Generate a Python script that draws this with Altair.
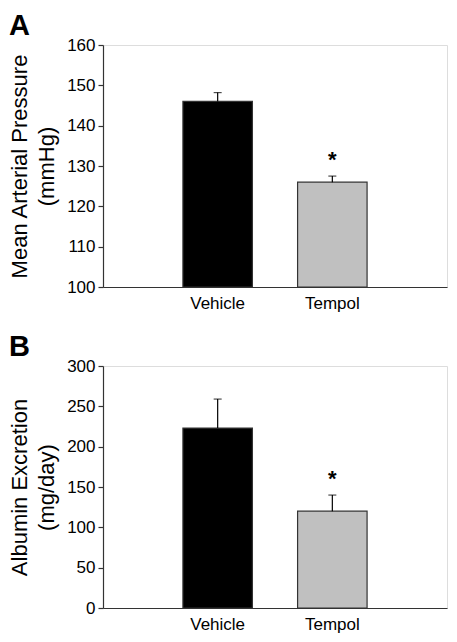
import altair as alt
import pandas as pd

groups = ["Vehicle", "Tempol"]
bar_colors = ["#000000", "#c0c0c0"]
sig = ["", "*"]

# Panel A: mean arterial pressure (mmHg)
map_mean = [146, 126]
map_sem = [2.2, 1.5]
map_ticks = [100, 110, 120, 130, 140, 150, 160]

# Panel B: albumin excretion (mg/day)
alb_mean = [223, 120]
alb_sem = [36, 20]
alb_ticks = [0, 50, 100, 150, 200, 250, 300]

FONT = "Liberation Sans"
AXIS_COLOR = "#333333"
PLOT_W = 344
PLOT_H = 242


def panel(letter, means, sems, title_lines, ticks, letter_y):
    df = pd.DataFrame({
        "group": groups,
        "mean": means,
        "base": [ticks[0]] * len(groups),
        "top": [m + s for m, s in zip(means, sems)],
        "sig": sig,
    })
    x = alt.X(
        "group:N", sort=groups,
        scale=alt.Scale(paddingInner=0.394, paddingOuter=0.697),
        axis=alt.Axis(title=None, labelAngle=0, ticks=False, labelPadding=8,
                      labelFontSize=17, labelFont=FONT, labelColor="#000",
                      domainColor=AXIS_COLOR, domainWidth=1.2),
    )
    yscale = alt.Scale(domain=[ticks[0], ticks[-1]], zero=False, nice=False)
    y = alt.Y(
        "mean:Q", scale=yscale,
        axis=alt.Axis(title=title_lines, values=ticks, grid=False, tickSize=5,
                      labelPadding=3, labelFontSize=17, labelFont=FONT,
                      labelColor="#000", titleFont=FONT, titleFontSize=22,
                      titleFontWeight="normal", titleColor="#000",
                      titleLineHeight=27, titlePadding=8,
                      domainColor=AXIS_COLOR, tickColor=AXIS_COLOR,
                      domainWidth=1.2, tickWidth=1.2),
    )
    base = alt.Chart(df)
    bars = base.mark_bar(stroke=AXIS_COLOR, strokeWidth=1.2).encode(
        x=x, y=y, y2="base:Q",
        color=alt.Color("group:N", scale=alt.Scale(domain=groups, range=bar_colors), legend=None),
    )
    stem = base.mark_rule(color="#000", strokeWidth=1.2).encode(
        x=alt.X("group:N", sort=groups), y=alt.Y("mean:Q"), y2="top:Q")
    cap = base.mark_tick(color="#000", size=8, thickness=1.2, orient="horizontal").encode(
        x=alt.X("group:N", sort=groups), y=alt.Y("top:Q"))
    star = base.mark_text(font=FONT, fontSize=22, fontWeight="bold", baseline="bottom",
                          dy=-4, color="#000").encode(
        x=alt.X("group:N", sort=groups), y=alt.Y("top:Q"), text="sig:N")
    label = alt.Chart(pd.DataFrame({"letter": [letter]})).mark_text(
        font=FONT, fontSize=29, fontWeight="bold", align="left", baseline="top", color="#000"
    ).encode(text="letter:N", x=alt.value(-94), y=alt.value(letter_y))
    return alt.layer(bars, stem, cap, star, label).properties(width=PLOT_W, height=PLOT_H)


chart = alt.vconcat(
    panel("A", map_mean, map_sem, ["Mean Arterial Pressure", "(mmHg)"], map_ticks, -33),
    panel("B", alb_mean, alb_sem, ["Albumin Excretion", "(mg/day)"], alb_ticks, -33),
    spacing=20,
).properties(
    padding={"left": 0, "top": 3, "right": 0, "bottom": 0}
).configure_view(stroke=None).configure(background="white")

chart.save("out.html", embed_options={"renderer": "svg", "actions": False})
